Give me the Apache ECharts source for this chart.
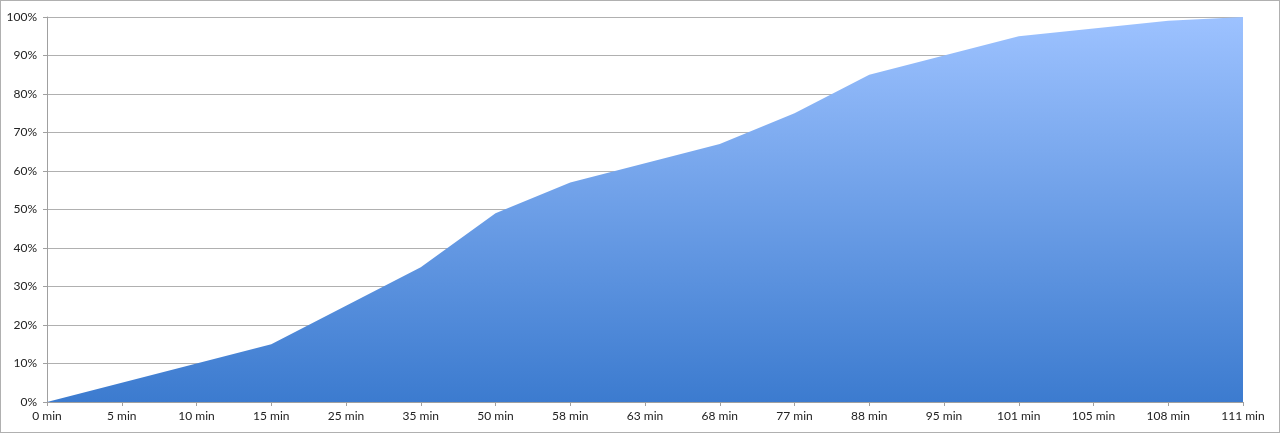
<!DOCTYPE html>
<html><head><meta charset="utf-8">
<script src="https://cdn.jsdelivr.net/npm/echarts@6/dist/echarts.min.js"></script>
<style>html,body{margin:0;padding:0;background:#fff}#c{width:1280px;height:433px;box-sizing:border-box;border:1px solid #b0b0b0}</style>
</head><body><div id="c"></div>
<script>
const categories = ['0 min','5 min','10 min','15 min','25 min','35 min','50 min','58 min','63 min','68 min','77 min','88 min','95 min','101 min','105 min','108 min','111 min'];
const values = [0,5,10,15,25,35,49,57,62,67,75,85,90,95,97,99,100];
const chart = echarts.init(document.getElementById('c'));
chart.setOption({
  animation:false,
  grid:{left:46,right:36,top:16,bottom:30},
  xAxis:{type:'category',data:categories,boundaryGap:false,
    axisLine:{lineStyle:{color:'#a0a0a0',width:1}},
    axisTick:{show:true,length:4,lineStyle:{color:'#a0a0a0'}},
    axisLabel:{color:'#222',fontFamily:'Lato',fontSize:12,margin:8,interval:0}},
  yAxis:{type:'value',min:0,max:100,interval:10,
    axisLine:{show:true,lineStyle:{color:'#a0a0a0'}},
    axisTick:{show:true,length:4,lineStyle:{color:'#a0a0a0'}},
    axisLabel:{color:'#222',fontFamily:'Lato',fontSize:12,margin:10,formatter:'{value}%'},
    splitLine:{lineStyle:{color:'#b0b0b0',width:1}}},
  series:[{type:'line',data:values,symbol:'none',
    lineStyle:{width:0},
    areaStyle:{opacity:1,color:new echarts.graphic.LinearGradient(0,0,0,1,[{offset:0,color:'#9dc2ff'},{offset:1,color:'#3c7bcf'}])}}]
});
</script></body></html>
